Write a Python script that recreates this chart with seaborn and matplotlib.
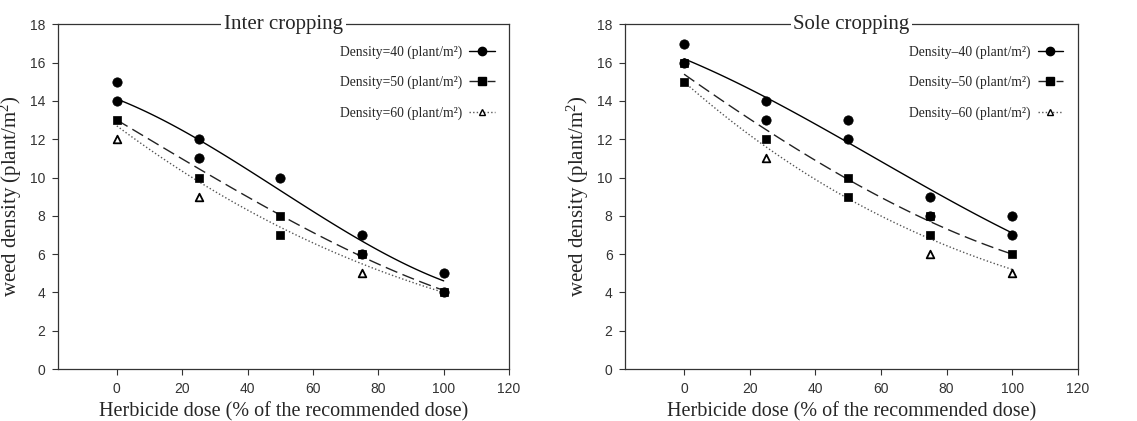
import numpy as np
import pandas as pd
import seaborn as sns
import matplotlib
matplotlib.use("Agg")
import matplotlib.pyplot as plt
from matplotlib.lines import Line2D

# observed weed density (replicates), dose in % of recommended dose
inter_d40_x = [0, 0, 25, 25, 50, 75, 75, 100, 100]
inter_d40_y = [15, 14, 12, 11, 10, 7, 6, 5, 4]
inter_d50_x = [0, 25, 50, 50, 75, 100]
inter_d50_y = [13, 10, 8, 7, 6, 4]
inter_d60_x = [0, 25, 75]
inter_d60_y = [12, 9, 5]

sole_d40_x = [0, 0, 25, 25, 50, 50, 75, 75, 100, 100]
sole_d40_y = [17, 16, 14, 13, 13, 12, 9, 8, 8, 7]
sole_d50_x = [0, 0, 25, 50, 50, 75, 75, 100]
sole_d50_y = [16, 15, 12, 10, 9, 8, 7, 6]
sole_d60_x = [25, 75, 100]
sole_d60_y = [11, 6, 5]

# fitted curve values read at each dose
doses = [0, 25, 50, 75, 100]
inter_fit40 = [14.1, 12.0, 9.3, 6.7, 4.6]
inter_fit50 = [13.0, 10.5, 8.0, 5.9, 4.1]
inter_fit60 = [12.7, 9.8, 7.4, 5.5, 4.0]
sole_fit40 = [16.2, 14.2, 11.8, 9.4, 7.1]
sole_fit50 = [15.4, 12.5, 9.9, 7.7, 6.0]
sole_fit60 = [15.0, 11.6, 8.9, 6.8, 5.2]

labels = ["Density=40 (plant/m²)", "Density=50 (plant/m²)", "Density=60 (plant/m²)"]
sole_labels = ["Density\u201340 (plant/m²)", "Density\u201350 (plant/m²)", "Density\u201360 (plant/m²)"]

sns.set_style("ticks")
plt.rcParams['font.family'] = ['Liberation Sans', 'DejaVu Sans']
plt.rcParams['mathtext.fontset'] = 'custom'
plt.rcParams['mathtext.rm'] = 'Liberation Serif'
plt.rcParams['mathtext.it'] = 'Liberation Serif'
plt.rcParams['mathtext.default'] = 'rm'

serif = ['Liberation Serif', 'DejaVu Serif']

line_styles = [
    dict(color='black', lw=1.0, ls='-'),
    dict(color='#222222', lw=1.0, ls=(0, (9, 4))),
    dict(color='#555555', lw=1.0, ls=(0, (1, 1.6))),
]
markers = [
    dict(marker='o', s=45, color='black', edgecolor='black'),
    dict(marker='s', s=40, color='black', edgecolor='black'),
    dict(marker='^', s=30, color='white', edgecolor='black', linewidth=1.3),
]


def draw_panel(ax, title, pts, fits, leg_labels):
    for fit, lst in zip(fits, line_styles):
        sns.regplot(x=doses, y=fit, order=3, ci=None, scatter=False, ax=ax,
                    line_kws=dict(color=lst['color'], lw=lst['lw'], ls=lst['ls']))
    for (xx, yy), mk in zip(pts, markers):
        sns.scatterplot(x=xx, y=yy, ax=ax, zorder=3, **mk)
    ax.set_xlim(-18, 120)
    ax.set_ylim(0, 18)
    ax.set_xticks(range(0, 121, 20))
    ax.set_yticks(range(0, 19, 2))
    ax.tick_params(direction='out', length=4, width=0.8, labelsize=10, pad=5,
                   colors='#333333', labelcolor='#333333')
    for sp in ax.spines.values():
        sp.set_visible(True)
        sp.set_linewidth(0.9)
        sp.set_color('#333333')
    ax.set_xlabel("Herbicide dose (% of the recommended dose)", family=serif,
                  fontsize=14.5, labelpad=5)
    ax.set_ylabel("weed density (plant/m$^2$)", family=serif, fontsize=15,
                  labelpad=4)
    ax.text(0.5, 1.0, title, transform=ax.transAxes, ha='center', va='center',
            family=serif, fontsize=15,
            bbox=dict(facecolor='white', edgecolor='none', pad=2))
    handles = []
    for lst, mk in zip(line_styles, markers):
        handles.append(Line2D([0], [0], color=lst['color'], lw=lst['lw'], ls=lst['ls'],
                              marker=mk['marker'], markersize=6 if mk['marker'] != '^' else 5,
                              markerfacecolor=mk['color'], markeredgecolor='black'))
    ax.legend(handles, leg_labels, loc='upper right', frameon=False,
              markerfirst=False, prop=dict(family='Liberation Serif', size=9.8),
              labelspacing=1.25, handlelength=1.9, handletextpad=0.5,
              bbox_to_anchor=(0.995, 0.975))


fig = plt.figure(figsize=(11.37, 4.21), dpi=100)
ax1 = fig.add_axes([0.051, 0.1235, 0.3967, 0.8185])
ax2 = fig.add_axes([0.5497, 0.1235, 0.3983, 0.8185])

draw_panel(ax1, "Inter cropping",
           [(inter_d40_x, inter_d40_y), (inter_d50_x, inter_d50_y), (inter_d60_x, inter_d60_y)],
           [inter_fit40, inter_fit50, inter_fit60], labels)
draw_panel(ax2, "Sole cropping",
           [(sole_d40_x, sole_d40_y), (sole_d50_x, sole_d50_y), (sole_d60_x, sole_d60_y)],
           [sole_fit40, sole_fit50, sole_fit60], sole_labels)

fig.savefig("out.png", dpi=100)
